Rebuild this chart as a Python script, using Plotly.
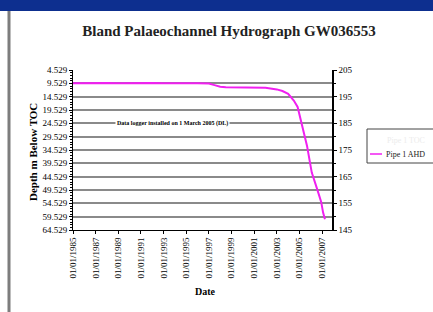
import plotly.graph_objects as go

# ---- data ----
dates = ["1985-01-01", "1986-01-01", "1987-01-01", "1988-01-01", "1989-01-01",
         "1990-01-01", "1991-01-01", "1992-01-01", "1993-01-01", "1994-01-01",
         "1995-01-01", "1996-01-01", "1997-01-01", "1997-07-01", "1998-01-01",
         "1998-07-01", "1999-01-01", "2000-01-01", "2001-01-01", "2002-01-01",
         "2003-01-01", "2003-07-01", "2004-01-01", "2004-07-01", "2004-11-01",
         "2005-03-01", "2005-06-01", "2005-09-01", "2005-12-01", "2006-02-01",
         "2006-08-01", "2006-12-01", "2007-02-01", "2007-04-01"]
depth_m = [9.5, 9.4, 9.5, 9.4, 9.5, 9.4, 9.5, 9.4, 9.5, 9.4,
           9.5, 9.5, 9.6, 10.2, 10.8, 11.0, 11.0, 11.1, 11.0, 11.2,
           11.8, 12.4, 13.5, 16.0, 18.4, 24.0, 28.0, 33.0, 39.0, 43.0,
           49.5, 54.0, 58.0, 60.5]
toc_elevation = 209.529
ahd_m = [round(toc_elevation - d, 3) for d in depth_m]

depth_ticks = [4.529 + 5 * i for i in range(13)]
depth_ticktext = ["%.3f" % v for v in depth_ticks]
ahd_ticks = [205, 195, 185, 175, 165, 155, 145]
year_ticks = ["%d-01-01" % y for y in range(1985, 2008, 2)]
year_ticktext = ["01/01/%d" % y for y in range(1985, 2008, 2)]

title_text = "Bland Palaeochannel Hydrograph GW036553"
note_text = "Data logger installed on 1 March 2005 (DL)"
series_name = "Pipe 1 AHD"
hidden_series_name = "Pipe 1 TOC"
line_color = "#f020f0"

SERIF = "Liberation Serif, Times New Roman, serif"

fig = go.Figure()
fig.add_trace(go.Scatter(x=dates, y=depth_m, mode="lines", name=series_name,
                         line=dict(color=line_color, width=2), yaxis="y",
                         showlegend=False))
fig.add_trace(go.Scatter(x=dates, y=ahd_m, mode="lines", name="ahd",
                         line=dict(color="rgba(0,0,0,0)", width=0),
                         showlegend=False, yaxis="y2", hoverinfo="skip"))

L, R, T, B = 73, 332, 70, 230
W, H = 433, 312
pw, ph = R - L, B - T


def px(x):
    return (x - L) / pw


def py(y):
    return (B - y) / ph


fig.update_layout(
    width=W, height=H,
    margin=dict(l=L, r=W - R, t=T, b=H - B, autoexpand=False),
    paper_bgcolor="white", plot_bgcolor="white",
    font=dict(family=SERIF, color="black", size=9),
    title=dict(text="<b>" + title_text + "</b>", x=229 / W, y=1 - 31 / H,
               xref="container", yref="container", xanchor="center",
               yanchor="middle",
               font=dict(family=SERIF, size=15, color="#222")),
    showlegend=False,
    xaxis=dict(type="date", range=["1985-01-01", "2007-11-15"],
               tickmode="array", tickvals=year_ticks, ticktext=year_ticktext,
               tickangle=-90, tickfont=dict(size=9, family=SERIF),
               ticks="outside", ticklen=3, tickcolor="black",
               showline=True, linecolor="black", linewidth=1,
               showgrid=False, zeroline=False),
    yaxis=dict(range=[64.529, 4.529], tickmode="array", tickvals=depth_ticks,
               ticktext=depth_ticktext, tickfont=dict(size=9, family=SERIF),
               ticks="outside", ticklen=3, tickcolor="black",
               showline=True, linecolor="black", linewidth=1,
               showgrid=True, gridcolor="#8a8a8a", gridwidth=2,
               minor=dict(dtick=1, tick0=4.529, ticks="outside", ticklen=2,
                          tickcolor="black", showgrid=False),
               zeroline=False),
    yaxis2=dict(range=[145, 205], overlaying="y", side="right",
                tickmode="array", tickvals=ahd_ticks,
                tickfont=dict(size=9, family=SERIF),
                ticks="outside", ticklen=3, tickcolor="black",
                showline=True, linecolor="black", linewidth=1.5,
                showgrid=False, zeroline=False,
                minor=dict(dtick=5, tick0=145, ticks="outside", ticklen=2,
                           tickcolor="black")),
)

shapes = [
    # window title bar
    dict(type="rect", xref="paper", yref="paper", x0=px(-20), x1=px(460),
         y0=py(11), y1=py(-20), fillcolor="#0d2f8f", line=dict(width=0),
         layer="above"),
    # left window border
    dict(type="line", xref="paper", yref="paper", x0=px(9), x1=px(9),
         y0=py(11), y1=py(320), line=dict(color="#7d7d7d", width=3),
         layer="above"),
    # legend box
    dict(type="rect", xref="paper", yref="paper", x0=px(367), x1=px(445),
         y0=py(163), y1=py(129), fillcolor="white",
         line=dict(color="#444", width=1), layer="above"),
    # legend line sample
    dict(type="line", xref="paper", yref="paper", x0=px(370), x1=px(382),
         y0=py(154), y1=py(154), line=dict(color=line_color, width=1.5),
         layer="above"),
]
fig.update_layout(shapes=shapes)

fig.add_annotation(text=hidden_series_name, xref="paper", yref="paper",
                   x=px(385), y=py(140), xanchor="left", showarrow=False,
                   font=dict(family=SERIF, size=8, color="#ececec"))
fig.add_annotation(text=series_name, xref="paper", yref="paper",
                   x=px(384), y=py(154), xanchor="left", showarrow=False,
                   font=dict(family=SERIF, size=8, color="#222"))

fig.add_annotation(text="<b>Depth m Below TOC</b>", textangle=-90,
                   xref="paper", yref="paper", x=px(25), y=py(152),
                   showarrow=False, font=dict(family=SERIF, size=11))
fig.add_annotation(text="<b>Date</b>", xref="paper", yref="paper",
                   x=px(205), y=py(299), showarrow=False,
                   font=dict(family=SERIF, size=10))
fig.add_annotation(text="<b>" + note_text + "</b>", xref="paper",
                   yref="paper", x=px(172), y=py(118), showarrow=False,
                   bgcolor="white", font=dict(family=SERIF, size=6))

fig.write_html("out.html",
               config={"displayModeBar": False},
               post_script="document.body.style.margin='0';"
                           "document.body.style.padding='0';")
